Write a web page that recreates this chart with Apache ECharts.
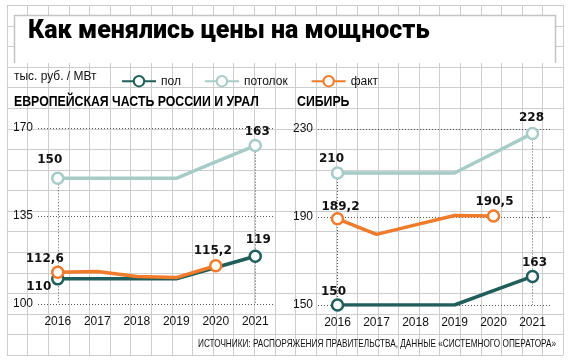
<!DOCTYPE html>
<html><head><meta charset="utf-8">
<script src="https://cdn.jsdelivr.net/npm/echarts@6/dist/echarts.min.js"></script>
<style>html,body{margin:0;padding:0;background:#fff}#c{width:570px;height:362px}</style>
</head><body><div id="c"></div>
<script>
// ---- data ----
const years = ['2016', '2017', '2018', '2019', '2020', '2021'];
const euFloor = [110, 110, 110, 110, 114.5, 119];
const euCeiling = [150, 150, 150, 150, 156.5, 163];
const euFact = [112.6, 112.9, 110.9, 110.5, 115.2, null];
const sibFloor = [150, 150, 150, 150, 156.5, 163];
const sibCeiling = [210, 210, 210, 210, 219, 228];
const sibFact = [189.2, 182.1, 186.4, 190.7, 190.5, null];
const euTicks = [100, 135, 170];
const sibTicks = [150, 190, 230];
const seriesNames = ['пол', 'потолок', 'факт'];

// ---- style ----
const COL_FLOOR = '#1f5e5a', COL_CEIL = '#a7ccc8', COL_FACT = '#ef7b2b';
const NARROW = "'Liberation Sans Narrow', 'Liberation Sans', sans-serif";
const LABELFONT = "'DejaVu Sans', sans-serif";
const DOTS = [1, 2];
// label offsets (style only) keyed by data index
const labelOffsets = {
  eu: { floor: {0: [-19, 8], 5: [3, -16]}, ceil: {0: [-8, -18], 5: [2, -14]}, fact: {0: [-13, -13], 4: [-3, -15]} },
  sib: { floor: {0: [-4, -13], 5: [2, -14]}, ceil: {0: [-6, -14], 5: [-1, -16]}, fact: {0: [3, -12], 4: [1, -14]} }
};

function buildData(values, offs) {
  return values.map((v, i) => offs[i]
    ? {value: v, symbol: 'circle', symbolSize: 11,
       label: {show: true, position: 'inside', offset: offs[i],
               formatter: p => String(p.value).replace('.', ','),
               color: '#111', fontFamily: LABELFONT, fontWeight: 'bold', fontSize: 12}}
    : {value: v, symbol: 'none'});
}
function lineSeries(name, values, color, offs, idx) {
  return {
    name: name, type: 'line', xAxisIndex: idx, yAxisIndex: idx, z: 3,
    symbol: 'circle', symbolSize: 11, showSymbol: true,
    data: buildData(values, offs),
    lineStyle: {color: color, width: 3.5},
    itemStyle: {color: '#fff', borderColor: color, borderWidth: 2.5},
    emphasis: {disabled: true}, connectNulls: false
  };
}
function dropSeries(values, ticks, idx) {
  const last = years.length - 1;
  return {
    type: 'line', xAxisIndex: idx, yAxisIndex: idx, z: 1, data: [], silent: true,
    markLine: {
      z: 1,
      silent: true, symbol: ['none', 'none'], label: {show: false}, animation: false,
      lineStyle: {type: DOTS, color: '#555', width: 1},
      emphasis: {disabled: true},
      data: [
        [{coord: [years[0], values[0]]}, {coord: [years[0], ticks[0]]}],
        [{coord: [years[last], values[last]]}, {coord: [years[last], ticks[0]]}]
      ]
    }
  };
}

// ---- background graph paper ----
const graphics = [];
const X0 = 6.7, Y0 = 5, STEP = 20.6, NX = 27, NY = 17;
for (let k = 0; k <= NX; k++) {
  const x = Math.round(X0 + k * STEP) + 0.5;
  graphics.push({type: 'line', z: -10, silent: true, shape: {x1: x, y1: Y0, x2: x, y2: Y0 + NY * 20.59}, style: {stroke: '#cdcdcd', lineWidth: 1}});
}
for (let k = 0; k <= NY; k++) {
  const y = Math.round(Y0 + k * 20.59) + 0.5;
  graphics.push({type: 'line', z: -10, silent: true, shape: {x1: X0, y1: y, x2: X0 + NX * STEP, y2: y}, style: {stroke: '#cdcdcd', lineWidth: 1}});
}
graphics.push({type: 'rect', z: -9, silent: true, shape: {x: 14, y: 15, width: 541, height: 48}, style: {fill: '#fff'}});
graphics.push({type: 'polyline', z: -8, silent: true, shape: {points: [[14.5, 63], [14.5, 15.5], [555.5, 15.5], [555.5, 63]]}, style: {stroke: '#c4c4c4', lineWidth: 1.5, fill: null}});
graphics.push({type: 'text', z: 5, x: 28, y: 19, style: {text: 'Как менялись цены на мощность', font: "900 25px 'Roboto', 'Liberation Sans', sans-serif", fill: '#000'}});
graphics.push({type: 'text', z: 5, x: 14, y: 70, scaleX: 0.92, style: {text: 'тыс. руб. / МВт', font: "13px " + NARROW, fill: '#111'}});
graphics.push({type: 'text', z: 5, x: 14, y: 94, scaleX: 0.82, style: {text: 'ЕВРОПЕЙСКАЯ ЧАСТЬ РОССИИ И УРАЛ', font: "bold 15px " + NARROW, fill: '#000'}});
graphics.push({type: 'text', z: 5, x: 297, y: 94, scaleX: 0.82, style: {text: 'СИБИРЬ', font: "bold 15px " + NARROW, fill: '#000'}});
graphics.push({type: 'text', z: 5, x: 198, y: 338, scaleX: 0.746, style: {text: 'ИСТОЧНИКИ: РАСПОРЯЖЕНИЯ ПРАВИТЕЛЬСТВА, ДАННЫЕ «СИСТЕМНОГО ОПЕРАТОРА»', font: "11px " + NARROW, fill: '#111'}});

function xAxis(idx) {
  return {type: 'category', gridIndex: idx, data: years, boundaryGap: true,
    axisLine: {show: false}, axisTick: {show: false}, splitLine: {show: false},
    axisLabel: {color: '#111', fontFamily: NARROW, fontSize: 12, margin: 12}};
}
function yAxis(idx, ticks) {
  return {type: 'value', gridIndex: idx, min: ticks[0], max: ticks[ticks.length - 1], interval: ticks[1] - ticks[0],
    axisLine: {show: false}, axisTick: {show: false},
    splitLine: {show: true, lineStyle: {type: DOTS, color: '#555', width: 1}},
    axisLabel: {color: '#111', fontFamily: NARROW, fontSize: 12, margin: 5}};
}

const chart = echarts.init(document.getElementById('c'), null, {renderer: 'canvas'});
chart.setOption({
  animation: false,
  backgroundColor: '#fff',
  graphic: graphics,
  legend: {
    data: seriesNames, left: 116, top: 70, itemWidth: 34, itemHeight: 13, itemGap: 23,
    selectedMode: false,
    textStyle: {fontFamily: NARROW, fontSize: 12, color: '#111'}
  },
  grid: [
    {left: 38, top: 128, width: 237, height: 176},
    {left: 318, top: 129, width: 234, height: 176}
  ],
  xAxis: [xAxis(0), xAxis(1)],
  yAxis: [yAxis(0, euTicks), yAxis(1, sibTicks)],
  series: [
    dropSeries(euCeiling, euTicks, 0),
    dropSeries(sibCeiling, sibTicks, 1),
    lineSeries(seriesNames[0], euFloor, COL_FLOOR, labelOffsets.eu.floor, 0),
    lineSeries(seriesNames[1], euCeiling, COL_CEIL, labelOffsets.eu.ceil, 0),
    lineSeries(seriesNames[2], euFact, COL_FACT, labelOffsets.eu.fact, 0),
    lineSeries(seriesNames[0], sibFloor, COL_FLOOR, labelOffsets.sib.floor, 1),
    lineSeries(seriesNames[1], sibCeiling, COL_CEIL, labelOffsets.sib.ceil, 1),
    lineSeries(seriesNames[2], sibFact, COL_FACT, labelOffsets.sib.fact, 1)
  ]
});
</script></body></html>
